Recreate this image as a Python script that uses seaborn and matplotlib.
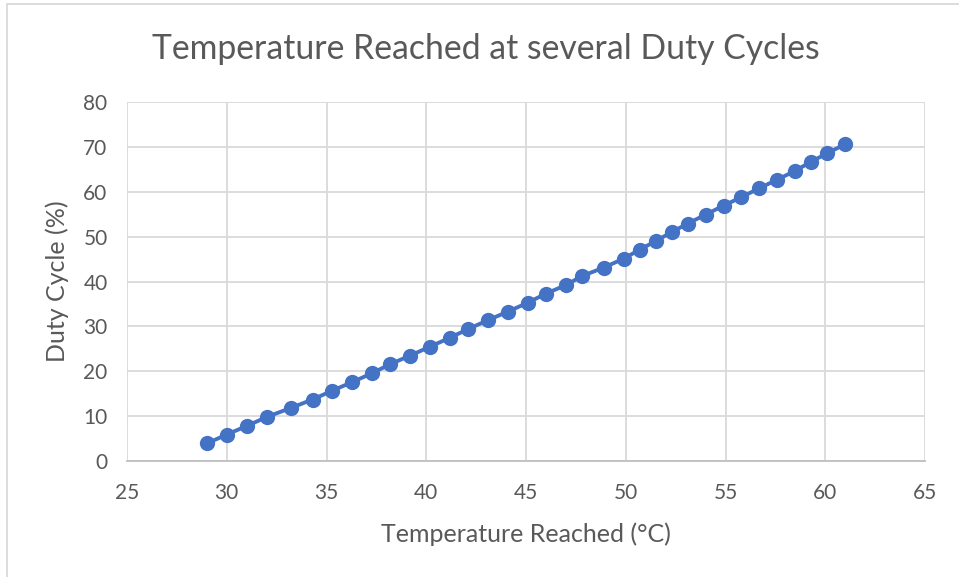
import matplotlib
matplotlib.use('Agg')
import matplotlib.pyplot as plt
import seaborn as sns
import pandas as pd
from matplotlib.patches import Rectangle

# Temperature reached (deg C) for each duty cycle step
temperature = [29.0, 30.0, 31.0, 32.0, 33.2, 34.3, 35.3, 36.3, 37.3, 38.2,
               39.2, 40.2, 41.2, 42.1, 43.1, 44.1, 45.1, 46.0, 47.0, 47.8,
               48.9, 49.9, 50.7, 51.5, 52.3, 53.1, 54.0, 54.9, 55.8, 56.7,
               57.6, 58.5, 59.3, 60.1, 61.0]
duty_cycle = [3.9, 5.9, 7.8, 9.8, 11.8, 13.7, 15.7, 17.6, 19.6, 21.6,
              23.5, 25.5, 27.5, 29.4, 31.4, 33.3, 35.3, 37.3, 39.2, 41.2,
              43.1, 45.1, 47.1, 49.0, 51.0, 52.9, 54.9, 56.9, 58.8, 60.8,
              62.7, 64.7, 66.7, 68.6, 70.6]
x_ticks = [25, 30, 35, 40, 45, 50, 55, 60, 65]
y_ticks = [0, 10, 20, 30, 40, 50, 60, 70, 80]

df = pd.DataFrame({'temp': temperature, 'duty': duty_cycle})

sns.set_style('white')
plt.rcParams['font.family'] = ['Lato', 'DejaVu Sans']
text_color = '#595959'
blue = '#4472C4'

fig = plt.figure(figsize=(9.59, 5.77), dpi=100)
ax = fig.add_axes([127 / 959, 1 - 461 / 577, 798 / 959, 359 / 577])

sns.lineplot(data=df, x='temp', y='duty', ax=ax, color=blue, linewidth=2.8,
             marker='o', markersize=11, markeredgewidth=0, sort=False)

ax.set_xlim(25, 65)
ax.set_ylim(0, 80)
ax.set_xticks(x_ticks)
ax.set_yticks(y_ticks)
ax.grid(True, color='#D9D9D9', linewidth=1.3)
ax.set_axisbelow(True)
for side in ['top', 'right', 'left']:
    ax.spines[side].set_visible(False)
ax.spines['bottom'].set_color('#BFBFBF')
ax.spines['bottom'].set_linewidth(1.3)
ax.tick_params(axis='both', length=0, labelsize=15, labelcolor=text_color)
ax.tick_params(axis='x', pad=16)
ax.tick_params(axis='y', pad=14)

ax.set_xlabel('Temperature Reached (°C)', fontsize=18, color=text_color, labelpad=14)
ax.set_ylabel('Duty Cycle (%)', fontsize=18, color=text_color, labelpad=10)
fig.text(0.5 * (152 + 820) / 959, 1 - 49 / 577, 'Temperature Reached at several Duty Cycles',
         fontsize=24.3, color=text_color, ha='center', va='center')

# chart frame
fig.patches.append(Rectangle((7 / 959, -0.01), 1.0, 1 - 4 / 577 + 0.01,
                             transform=fig.transFigure, fill=False,
                             edgecolor='#D9D9D9', linewidth=1.3))

plt.savefig('out.png', dpi=100)
